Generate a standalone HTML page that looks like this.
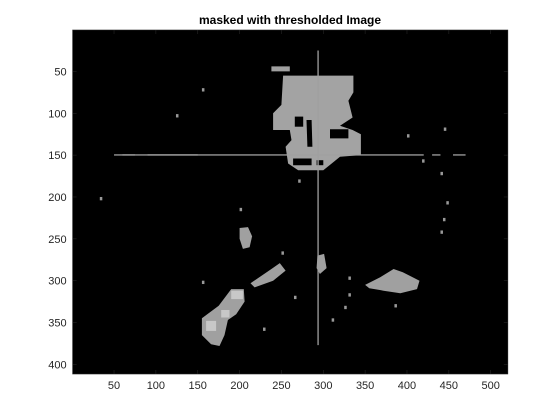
<!DOCTYPE html>
<html><head><meta charset="utf-8"><style>
body{margin:0;background:#fff;width:560px;height:420px;overflow:hidden}
svg{display:block}
text{font-family:"Liberation Sans",Arial,sans-serif}
</style></head><body>
<svg id="chart" width="560" height="420" viewBox="0 0 560 420" xmlns="http://www.w3.org/2000/svg"></svg>
<script>
const xTicks=[50,100,150,200,250,300,350,400,450,500];
const yTicks=[50,100,150,200,250,300,350,400];
const imgW=520, imgH=411;
const mainBlob=[[252,55],[336,55],[336,75],[330,85],[335,105],[320,115],[335,120],[345,125],[345,150],[320,152],[310,160],[300,168],[270,168],[258,160],[255,140],[262,132],[260,120],[240,120],[240,100],[250,90],[252,55]];
const holes=[[[266,104],[276,104],[276,116],[266,116]],[[280,108],[286,108],[287,140],[281,140]],[[308,119],[330,119],[330,130],[308,130]],[[264,154],[286,154],[286,162],[264,162]],[[292,156],[300,156],[300,162],[292,162]]];
const blobs=[
 [[155,345],[175,330],[190,310],[205,310],[206,325],[196,340],[186,347],[182,365],[176,378],[166,376],[155,365]],
 [[200,237],[210,236],[215,247],[212,260],[204,262],[200,250]],
 [[213,303],[238,286],[248,279],[255,288],[240,300],[218,308]],
 [[293,270],[301,268],[304,285],[296,292],[292,285]],
 [[350,305],[368,296],[384,286],[395,290],[405,295],[415,300],[412,310],[392,315],[372,312],[355,309]],
 [[238,44],[260,44],[260,50],[238,50]]
];
const bright=[[[190,312],[204,312],[204,322],[190,322]],[[160,348],[172,348],[172,360],[160,360]],[[178,335],[188,335],[188,344],[178,344]]];
const specks=[[155,70],[124,101],[33,200],[270,179],[444,117],[400,125],[418,155],[440,170],[447,205],[443,225],[440,240],[200,213],[155,300],[330,295],[330,315],[325,330],[310,345],[228,356],[265,318],[250,265],[385,328]];
const hLineSegs=[[50,150],[60,75],[90,110],[110,130],[130,420],[430,440],[455,470]];
const hLineV=149, vLineU=293, vLineRange=[25,377];

const svg=document.getElementById('chart');
const NS='http://www.w3.org/2000/svg';
const L=72.6,T=30,S=0.837;
const X=u=>L+(u-0.5)*S, Y=v=>T+(v-0.5)*S;
function mk(tag,attrs){const e=document.createElementNS(NS,tag);for(const k in attrs)e.setAttribute(k,attrs[k]);svg.appendChild(e);return e;}
const bg=mk('rect',{x:L,y:T,width:imgW*S,height:imgH*S,fill:'#000'});


const pts=a=>a.map(p=>X(p[0]).toFixed(1)+','+Y(p[1]).toFixed(1)).join(' ');
const mb=mk('polygon',{points:pts(mainBlob),fill:'#a3a3a3'});


holes.forEach(h=>{const e=mk('polygon',{points:pts(h),fill:'#000'});

});
blobs.forEach(b=>{const e=mk('polygon',{points:pts(b),fill:'#a0a0a0'});

});
bright.forEach(b=>{const e=mk('polygon',{points:pts(b),fill:'#c8c8c8'});

});
specks.forEach(s=>{const e=mk('rect',{x:X(s[0]),y:Y(s[1]),width:3*S,height:4*S,fill:'#999'});

});
hLineSegs.forEach(s=>{const e=mk('rect',{x:X(s[0]),y:Y(hLineV),width:(s[1]-s[0])*S,height:1.3,fill:'#a0a0a0'});

});
const vl=mk('rect',{x:X(vLineU),y:Y(vLineRange[0]),width:1.3,height:(vLineRange[1]-vLineRange[0])*S,fill:'#a0a0a0'});


const fr=mk('rect',{x:L,y:T,width:imgW*S,height:imgH*S,fill:'none',stroke:'#262626','stroke-width':0.6});


const B=T+imgH*S, R=L+imgW*S;
xTicks.forEach(t=>{const x=X(t);
mk('line',{x1:x,y1:B,x2:x,y2:B-4,stroke:'#262626','stroke-width':0.6});
mk('line',{x1:x,y1:T,x2:x,y2:T+4,stroke:'#262626','stroke-width':0.6});
const e=mk('text',{x:x,y:B+15,'text-anchor':'middle','font-size':'11',fill:'#262626'});e.textContent=t;

});
yTicks.forEach(t=>{const y=Y(t);
mk('line',{x1:L,y1:y,x2:L+4,y2:y,stroke:'#262626','stroke-width':0.6});
mk('line',{x1:R,y1:y,x2:R-4,y2:y,stroke:'#262626','stroke-width':0.6});
const e=mk('text',{x:L-6,y:y+4,'text-anchor':'end','font-size':'11',fill:'#262626'});e.textContent=t;

});
const ti=mk('text',{x:290,y:24,'text-anchor':'middle','font-size':'12','font-weight':'bold',fill:'#000'});
ti.textContent='masked with thresholded Image';


</script>
</body></html>
